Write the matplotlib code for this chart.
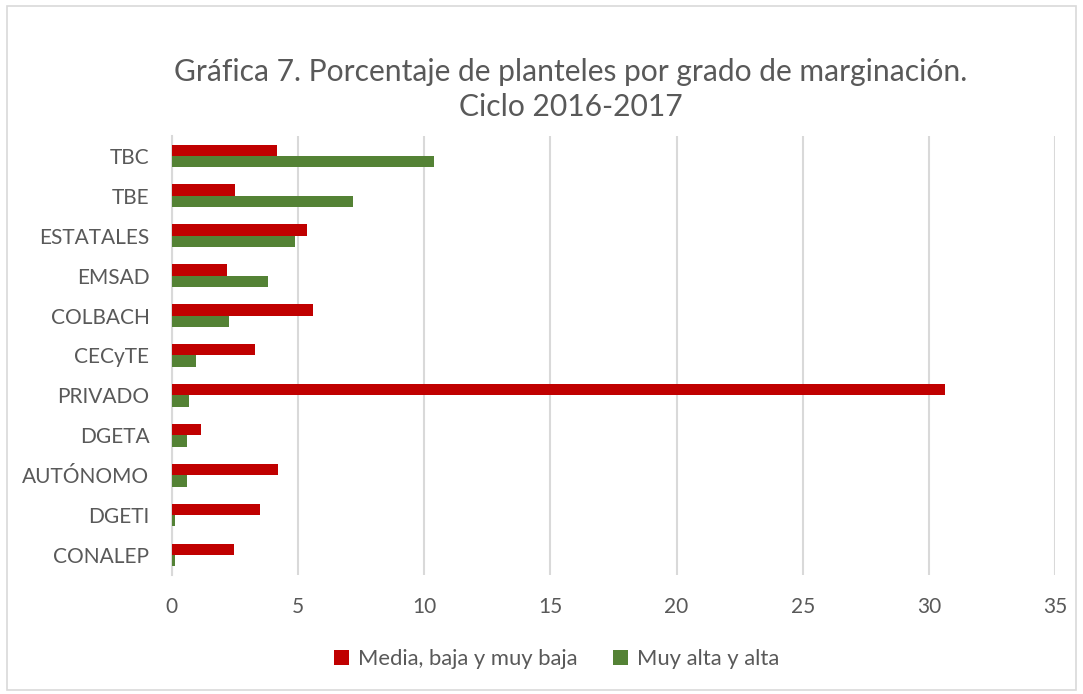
import numpy as np
import matplotlib
matplotlib.use('Agg')
import matplotlib.pyplot as plt
from matplotlib.patches import Rectangle

# categories, bottom to top as drawn
categories = ['CONALEP', 'DGETI', 'AUTÓNOMO', 'DGETA', 'PRIVADO', 'CECyTE',
              'COLBACH', 'EMSAD', 'ESTATALES', 'TBE', 'TBC']
media_baja = [2.46, 3.51, 4.20, 1.15, 30.63, 3.31, 5.60, 2.18, 5.35, 2.52, 4.18]
muy_alta = [0.12, 0.12, 0.59, 0.62, 0.70, 0.98, 2.26, 3.83, 4.89, 7.17, 10.41]
series_names = ['Media, baja y muy baja', 'Muy alta y alta']
x_ticks = [0, 5, 10, 15, 20, 25, 30, 35]

plt.rcParams['font.family'] = ['Lato', 'DejaVu Sans']
text_color = '#595959'

fig = plt.figure(figsize=(10.83, 6.94), dpi=100)
ax = fig.add_axes([0.1585, 0.1715, 0.8159, 0.6326])

# outer chart border
fig.patches.append(Rectangle((7 / 1083, 4 / 694), 1069 / 1083, 684 / 694,
                             transform=fig.transFigure, fill=False,
                             edgecolor='#d9d9d9', linewidth=1.2))

y = np.arange(len(categories))
h = 0.285
ax.barh(y + h / 2, media_baja, height=h, color='#c00000', label=series_names[0], zorder=3)
ax.barh(y - h / 2, muy_alta, height=h, color='#548235', label=series_names[1], zorder=3)

ax.set_xlim(0, 35)
ax.set_ylim(-0.5, len(categories) - 0.5)
ax.set_xticks(x_ticks)
ax.set_yticks(y)
ax.set_yticklabels(categories)
ax.xaxis.grid(True, color='#d9d9d9', linewidth=1.5, zorder=0)
for s in ['top', 'right', 'bottom']:
    ax.spines[s].set_visible(False)
ax.spines['left'].set_color('#d9d9d9')
ax.spines['left'].set_linewidth(1.5)
ax.tick_params(axis='both', length=0, labelsize=15, colors=text_color)
ax.tick_params(axis='y', pad=16)
ax.tick_params(axis='x', pad=16)

fig.text(0.527, 0.871, 'Gráfica 7. Porcentaje de planteles por grado de marginación.\nCiclo 2016-2017',
         ha='center', va='center', fontsize=21.6, color=text_color, linespacing=1.3)

fig.legend(loc='center', bbox_to_anchor=(0.514, 0.05), ncol=2, frameon=False,
           fontsize=15.8, labelcolor=text_color, handlelength=0.7, handleheight=0.7,
           handletextpad=0.4, columnspacing=1.6)

fig.savefig('out.png', dpi=100)
